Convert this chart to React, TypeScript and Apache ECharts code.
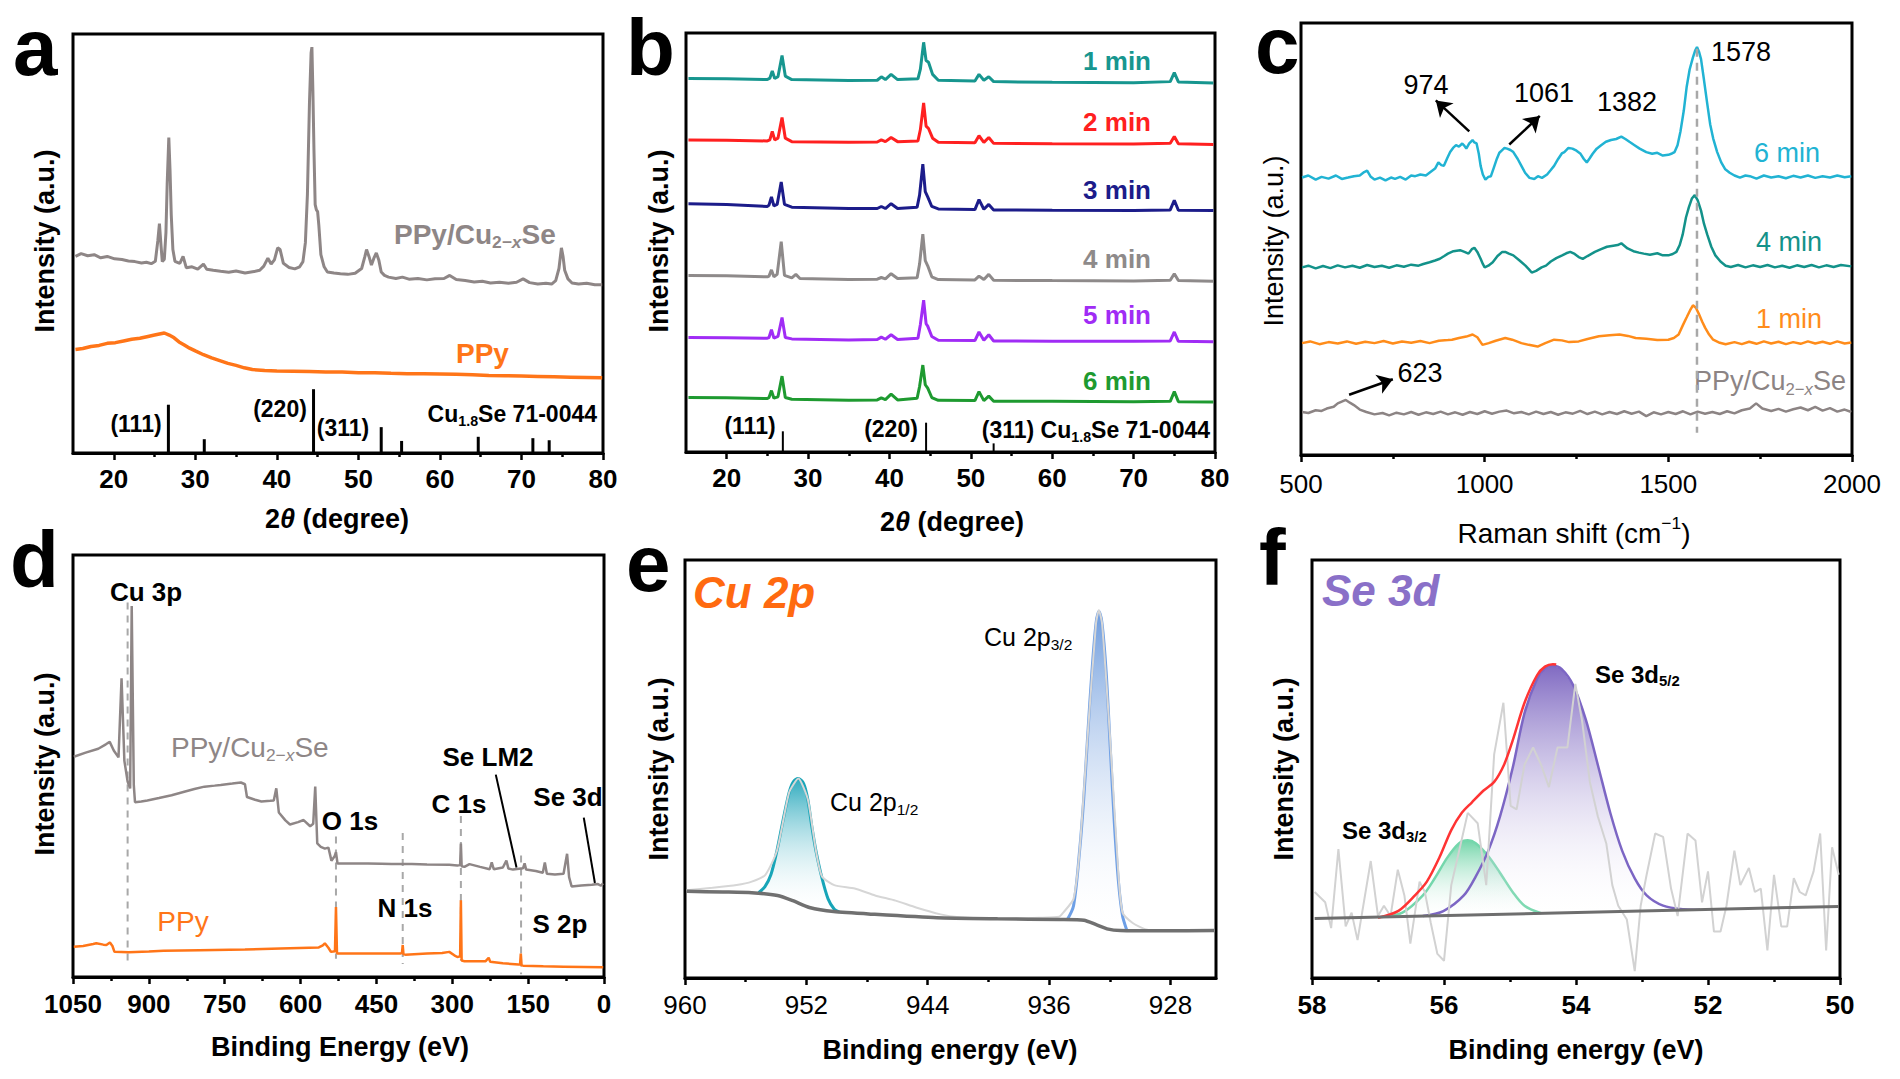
import React, { useEffect, useRef } from "react";
import * as echarts from "echarts";

const FONT = "'Liberation Sans', Arial, Helvetica, sans-serif";

// ---------------- Panel a : XRD ----------------
const A_TICKS = [20, 30, 40, 50, 60, 70, 80];
const A_MINOR = [25, 35, 45, 55, 65, 75];
const A_LABELS = [20, 30, 40, 50, 60, 70, 80];
const A_PPYCU = [
  [15.3, 570], [16.0, 578], [16.8, 572], [17.6, 575], [18.4, 566], [19.2, 570], [20.1, 563], [21.0, 561], [21.8, 557],
  [22.6, 555], [23.4, 551], [24.0, 553], [24.6, 549], [25.1, 556], [25.4, 615], [25.6, 665], [25.8, 600], [25.95, 555],
  [26.2, 562], [26.4, 640], [26.55, 780], [26.75, 915], [26.9, 820], [27.05, 690], [27.25, 590], [27.5, 556], [28.1, 550],
  [28.5, 570], [28.9, 537], [29.6, 540], [30.3, 533], [31.0, 548], [31.4, 533], [32.2, 530], [33.1, 527], [34.1, 524],
  [35.0, 528], [36.1, 522], [37.2, 526], [37.9, 530], [38.4, 542], [38.9, 565], [39.3, 548], [39.7, 560], [40.1, 595],
  [40.4, 590], [40.8, 550], [41.5, 538], [42.2, 534], [42.8, 540], [43.2, 555], [43.5, 610], [43.75, 750], [44.0, 1015],
  [44.2, 1160], [44.3, 1177], [44.42, 1050], [44.55, 880], [44.7, 720], [44.85, 705], [45.0, 700], [45.15, 660],
  [45.4, 575], [45.8, 540], [46.2, 525], [47.0, 522], [47.8, 520], [48.7, 518], [49.6, 521], [50.4, 535], [50.8, 570],
  [51.0, 590], [51.3, 570], [51.6, 545], [51.9, 565], [52.2, 580], [52.5, 560], [52.8, 525], [53.2, 515], [53.7, 510],
  [54.6, 506], [55.4, 510], [56.2, 504], [57.3, 506], [58.4, 502], [59.4, 505], [60.5, 506], [61.2, 515], [62.0, 503],
  [63.1, 500], [64.2, 496], [65.2, 498], [66.2, 493], [67.3, 495], [68.4, 492], [69.4, 495], [70.2, 505], [71.0, 494],
  [72.0, 490], [73.0, 492], [73.7, 490], [74.2, 500], [74.6, 535], [74.9, 595], [75.1, 570], [75.3, 530], [75.7, 505],
  [76.2, 493], [77.0, 490], [78.0, 492], [79.0, 488], [79.9, 488],
];
const A_PPY = [
  [15.3, 300], [16.2, 303], [17.2, 309], [18.2, 312], [19.2, 318], [20.2, 320], [21.2, 325], [22.2, 330], [23.2, 333],
  [24.2, 338], [25.0, 342], [25.6, 345], [26.2, 348], [26.8, 342], [27.4, 334], [28.0, 322], [28.6, 314], [29.3, 304],
  [30.0, 296], [31.0, 285], [32.0, 276], [33.0, 268], [34.0, 260], [35.0, 254], [36.0, 247], [37.0, 242], [38.5, 239],
  [40.0, 238], [42.0, 237], [44.0, 236], [46.0, 235], [48.0, 235], [50.0, 233], [52.0, 233], [54.0, 231], [56.0, 230],
  [58.0, 230], [60.0, 229], [62.0, 228], [64.0, 227], [66.0, 225], [68.0, 224], [70.0, 223], [72.0, 222], [74.0, 221],
  [76.0, 220], [78.0, 219], [79.9, 218],
];
const A_STICKS = [[26.7, 140], [31.1, 40], [44.5, 185], [52.8, 75], [55.3, 35], [64.7, 47], [71.4, 43], [73.4, 37]];

// ---------------- Panel b : XRD vs time ----------------
const B_1MIN = [[15.3,1083],[20,1082],[25,1080],[25.3,1084],[25.6,1105],[25.9,1083],[26.3,1088],[26.8,1150],[27.2,1090],[28,1080],[35,1077],[38.5,1078],[39,1088],[39.5,1080],[40.2,1095],[41,1080],[43.5,1082],[43.8,1110],[44.2,1188],[44.5,1135],[44.8,1130],[45.3,1095],[46,1078],[50.5,1076],[51,1095],[51.6,1078],[52.2,1088],[52.8,1074],[60,1072],[70,1071],[74.5,1074],[75,1100],[75.5,1073],[79.8,1070]];
const B_2MIN = [[15.3,905],[20,904],[25,902],[25.3,905],[25.6,930],[25.9,905],[26.3,910],[26.8,970],[27.2,910],[28,900],[35,898],[38.5,899],[39,905],[39.5,900],[40.2,912],[41,900],[43.5,902],[43.8,935],[44.2,1012],[44.5,945],[44.8,938],[45.3,910],[46,898],[50.5,897],[51,917],[51.6,898],[52.2,912],[52.8,895],[60,894],[70,893],[74.5,895],[75,915],[75.5,894],[79.8,892]];
const B_3MIN = [[15.3,720],[20,718],[25,712],[25.2,716],[25.5,740],[25.8,714],[26.2,718],[26.7,783],[27.1,718],[28,710],[35,706],[38.5,706],[39,712],[39.5,706],[40.2,720],[41,706],[43.4,710],[43.7,745],[44.1,835],[44.4,755],[44.7,740],[45.2,712],[46,705],[50.5,703],[51,732],[51.6,704],[52.2,718],[52.8,702],[60,701],[70,700],[74.5,702],[75,730],[75.5,701],[79.8,700]];
const B_4MIN = [[15.3,512],[20,511],[25,508],[25.2,510],[25.5,528],[25.8,508],[26.2,515],[26.7,610],[27.1,512],[28,505],[28.5,515],[29,503],[35,500],[38.5,501],[39,506],[39.5,502],[40.2,517],[41,503],[43.4,505],[43.7,545],[44.1,632],[44.4,555],[44.7,540],[45.2,508],[46,500],[50.5,499],[51,510],[51.6,500],[52.2,515],[52.8,498],[60,497],[70,496],[74.5,498],[75,517],[75.5,497],[79.8,495]];
const B_5MIN = [[15.3,332],[20,331],[25,330],[25.2,332],[25.5,355],[25.8,330],[26.3,335],[26.8,390],[27.2,332],[28,328],[35,325],[38.5,326],[39,333],[39.5,327],[40.2,340],[41,326],[43.5,330],[43.8,370],[44.2,440],[44.5,372],[44.7,365],[45.2,335],[46,324],[50.5,323],[51,348],[51.6,324],[52.2,340],[52.8,322],[60,321],[70,321],[74.5,322],[75,348],[75.5,321],[79.8,320]];
const B_6MIN = [[15.3,158],[20,157],[25,155],[25.2,158],[25.5,178],[25.8,156],[26.3,160],[26.8,220],[27.2,158],[28,153],[35,150],[38.5,151],[39,157],[39.5,152],[40.2,168],[41,151],[43.4,156],[43.7,190],[44.1,252],[44.4,195],[44.7,185],[45.2,158],[46,150],[50.5,149],[51,175],[51.6,149],[52.2,162],[52.8,147],[60,147],[70,146],[74.5,147],[75,175],[75.5,146],[79.8,145]];
const B_STICKS = [[26.9, 60], [44.5, 85], [52.8, 25]];
const B_NAMES = ["1 min", "2 min", "3 min", "4 min", "5 min", "6 min"];

// ---------------- Panel c : Raman ----------------
const C_TICKS = [500, 1000, 1500, 2000];
const C_MINOR = [750, 1250, 1750];
const C_LABELS = [500, 1000, 1500, 2000];
const C_6MIN = [[503,806],[520,812],[540,800],[556,808],[575,803],[595,812],[611,802],[628,806],[644,810],[660,812],[672,822],[680,826],[690,808],[700,800],[715,806],[730,798],[745,806],[756,802],[770,808],[785,800],[800,812],[811,810],[825,815],[840,812],[856,825],[865,832],[874,850],[882,842],[889,840],[898,862],[906,880],[914,892],[922,900],[930,896],[939,905],[945,898],[950,890],[958,905],[967,915],[972,908],[978,905],[984,875],[989,840],[995,815],[1002,800],[1010,808],[1017,810],[1025,835],[1033,860],[1040,878],[1047,885],[1054,892],[1061,890],[1070,886],[1078,880],[1090,860],[1100,840],[1110,820],[1122,805],[1135,802],[1145,810],[1156,805],[1170,815],[1180,828],[1189,840],[1200,860],[1210,876],[1217,880],[1228,892],[1239,890],[1250,884],[1261,875],[1270,860],[1278,850],[1286,862],[1294,875],[1305,890],[1317,900],[1330,910],[1344,915],[1358,918],[1372,925],[1383,918],[1394,910],[1408,900],[1422,890],[1440,880],[1456,875],[1470,878],[1485,870],[1500,872],[1510,876],[1517,880],[1525,900],[1533,940],[1542,1000],[1550,1070],[1558,1120],[1567,1155],[1573,1175],[1578,1185],[1584,1170],[1589,1150],[1597,1090],[1606,1020],[1614,960],[1622,920],[1633,880],[1644,850],[1655,830],[1667,820],[1680,812],[1695,806],[1710,812],[1722,810],[1740,803],[1760,812],[1780,806],[1800,810],[1820,804],[1840,811],[1860,806],[1880,812],[1900,805],[1920,810],[1940,806],[1960,812],[1980,807],[1998,810]];
const C_4MIN = [[503,545],[520,550],[540,542],[560,549],[580,543],[600,551],[620,545],[640,550],[660,544],[680,552],[700,546],[720,550],[740,544],[760,551],[780,547],[800,553],[820,550],[833,555],[850,560],[865,565],[878,570],[890,578],[900,585],[915,592],[933,595],[945,590],[956,585],[965,598],[972,602],[980,590],[989,570],[995,555],[1000,545],[1010,550],[1022,560],[1035,578],[1048,590],[1056,590],[1066,585],[1078,580],[1095,565],[1111,550],[1120,540],[1128,530],[1140,535],[1155,545],[1167,550],[1180,562],[1195,572],[1211,580],[1222,586],[1233,590],[1245,584],[1256,575],[1267,570],[1280,578],[1300,590],[1317,598],[1333,605],[1350,608],[1362,610],[1372,615],[1380,608],[1389,600],[1405,592],[1420,588],[1433,585],[1450,582],[1470,586],[1485,580],[1500,580],[1512,584],[1522,590],[1531,610],[1539,640],[1548,690],[1556,720],[1564,745],[1572,755],[1580,740],[1589,710],[1597,672],[1606,640],[1617,605],[1628,580],[1642,562],[1656,550],[1670,546],[1690,552],[1710,545],[1730,551],[1750,546],[1770,552],[1790,545],[1810,550],[1830,544],[1850,551],[1870,546],[1890,552],[1910,545],[1930,551],[1950,546],[1970,552],[1998,548]];
const C_1MIN = [[503,325],[525,330],[550,322],[575,328],[600,324],[625,330],[650,323],[675,329],[700,325],[725,331],[750,324],[775,330],[800,326],[825,331],[850,325],[875,332],[900,334],[911,335],[930,340],[950,344],[967,350],[980,342],[994,320],[1011,325],[1030,332],[1056,340],[1075,335],[1100,325],[1120,320],[1144,315],[1165,325],[1189,335],[1210,333],[1230,328],[1256,330],[1280,337],[1311,345],[1340,348],[1367,350],[1390,346],[1411,340],[1440,338],[1470,334],[1500,335],[1515,340],[1528,350],[1540,378],[1550,400],[1559,420],[1567,435],[1575,428],[1583,410],[1592,388],[1600,370],[1611,350],[1622,335],[1640,326],[1656,322],[1680,328],[1700,322],[1720,329],[1740,323],[1760,330],[1780,324],[1800,329],[1820,322],[1840,328],[1860,323],[1880,330],[1900,324],[1920,329],[1940,323],[1960,330],[1980,324],[1998,327]];
const C_PPYCU = [[503,125],[520,122],[540,130],[556,128],[570,135],[589,140],[600,150],[611,155],[622,160],[633,152],[644,145],[660,132],[678,125],[700,118],[722,122],[740,115],[760,123],[780,118],[800,125],[820,117],[840,124],[860,119],[880,126],[900,118],[920,124],[940,117],[960,125],[980,119],[1000,127],[1020,120],[1040,126],[1060,129],[1080,121],[1100,125],[1120,118],[1140,126],[1160,119],[1180,125],[1200,117],[1220,124],[1240,120],[1260,128],[1280,119],[1300,126],[1320,118],[1340,125],[1360,119],[1380,127],[1400,120],[1420,126],[1440,113],[1460,124],[1480,118],[1500,125],[1520,119],[1540,127],[1560,118],[1580,126],[1600,120],[1620,125],[1640,119],[1660,127],[1680,121],[1700,130],[1722,135],[1739,150],[1756,135],[1780,128],[1800,134],[1820,126],[1840,133],[1860,138],[1880,130],[1900,140],[1920,129],[1940,136],[1960,126],[1980,132],[1998,125]];
const C_DASH = [[1578, 1180], [1578, 65]];
const C_ARROWS = [[958, 940, 867, 1030], [1067, 902, 1150, 985], [631, 175, 750, 220]];
const C_PEAKS = ["974", "1061", "1382", "1578", "623"];

// ---------------- Panel d : XPS survey ----------------
const D_TICKS = [0, 150, 300, 450, 600, 750, 900, 1050];
const D_MINOR = [75, 225, 375, 525, 675, 825, 975];
const D_LABELS = [0, 150, 300, 450, 600, 750, 900, 1050];
const D_PPYCU = [[1048.4,640],[1025,652],[1000,663],[985,676],[977.4,683],[969.4,658],[960,638],[954,868],[948.4,628],[942,568],[937,548],[933.9,1078],[929.8,558],[927.4,508],[915,510],[903,513],[880,520],[855,528],[830,538],[810,546],[790,553],[770,556],[758,558],[735,562],[718,565],[710,560],[706,523],[690,515],[677.4,510],[660,512],[653,513],[648,548],[643,478],[630,455],[621,443],[605,450],[594,456],[581,438],[575,445],[571,553],[567,388],[560,378],[552,373],[545,376],[539,338],[533,350],[530,363],[527,330],[500,330],[467,330],[440,329],[420,328],[399,328],[380,328],[350,327],[306,326],[290,324],[284.5,325],[283,388],[281.5,322],[276,320],[266,328],[245,320],[226,313],[222,333],[218,313],[200,318],[193,338],[189,315],[180,312],[160,316],[157,330],[154,312],[135,308],[121,303],[117,333],[113,300],[97,298],[80,300],[73,358],[69,290],[64,263],[45,266],[24,268],[12,270],[6,265],[2,272]];
const D_PPY = [[1048.4,88],[1030,90],[1010,96],[1004,98],[990,94],[984,93],[977,100],[972,90],[968,73],[940,72],[900,74],[871,76],[800,78],[710,80],[640,83],[564,86],[556,92],[552,98],[545,85],[540,73],[532,75],[530,203],[528,70],[526,68],[480,68],[430,68],[403,68],[399.5,70],[398,93],[396.5,66],[393,65],[350,68],[320,70],[306,73],[296,63],[290,58],[284.5,60],[283,223],[281.5,48],[276,46],[250,46],[234,46],[228,56],[225,44],[200,40],[169,36],[166,37],[164.5,68],[163,34],[160,33],[120,31],[80,30],[40,29],[1.6,28]];
const D_DASH = [[942, 1088, 38], [530, 408, 53], [398, 418, 38], [283, 468, 48], [164, 353, 8]];
const D_LEADERS = [[214, 588, 173, 318], [40, 463, 18, 273]];

// ---------------- Panel e : Cu 2p ----------------
const E_TICKS = [928, 936, 944, 952, 960];
const E_MINOR = [932, 940, 948, 956];
const E_LABELS = [928, 936, 944, 952, 960];
const E_BG = [[959.9,252],[957.5,250],[955.6,248],[953.9,240],[952.9,225],[951.8,205],[950.2,193],[947.5,185],[943.4,175],[939.4,172],[935.3,170],[933.7,168],[932.9,155],[932.1,142],[931.3,138],[928.6,137],[925.1,138]];
const E_RAW = [[959.9,255],[958.2,262],[956.6,270],[955.6,280],[954.7,300],[953.94,370],[953.13,540],[952.53,580],[951.91,520],[951.37,370],[950.97,295],[950.16,270],[948.81,260],[947.47,240],[946.12,225],[944.77,205],[943.15,185],[942.08,177],[939.38,172],[936.68,175],[935.34,178],[935.07,190],[934.39,230],[933.99,370],[933.45,710],[932.91,1030],[932.72,1070],[932.51,1030],[931.97,690],[931.43,300],[931.16,190],[930.49,160],[929.68,142],[928.6,137],[925.1,138]];
const E_P12_X = [955.15,954.74,954.34,953.94,953.53,953.13,952.86,952.53,952.18,951.91,951.64,951.37,950.97,950.57,950.16,949.84];
const E_P12_BG = [248,247,245,240,235,230,225,220,213,208,204,201,197,195,193,192];
const E_P12_H = [0,18,55,130,225,310,345,360,352,312,236,169,93,35,7,0];
const E_P32_X = [934.80,934.39,933.99,933.72,933.45,933.18,932.91,932.72,932.51,932.24,931.97,931.70,931.43,931.16,930.89];
const E_P32_BG = [170,170,169,168,165,160,155,152,148,144,141,140,139,138,138];
const E_P32_H = [0,40,201,352,545,730,875,913,882,746,529,310,141,42,2];

// ---------------- Panel f : Se 3d ----------------
const F_TICKS = [50, 52, 54, 56, 58];
const F_MINOR = [51, 53, 55, 57];
const F_LABELS = [50, 52, 54, 56, 58];
const F_BG = [[57.96, 173], [50.02, 208]];
const F_RAW = [[57.96,250],[57.80,220],[57.71,145],[57.60,375],[57.49,150],[57.40,190],[57.31,110],[57.11,340],[57.00,180],[56.91,210],[56.81,180],[56.70,315],[56.60,240],[56.51,100],[56.37,280],[56.29,250],[56.20,160],[56.10,70],[56.00,50],[55.89,270],[55.77,370],[55.64,480],[55.49,450],[55.36,270],[55.24,650],[55.10,800],[54.99,500],[54.90,490],[54.78,620],[54.65,670],[54.53,620],[54.41,555],[54.28,670],[54.13,670],[54.01,855],[53.91,750],[53.79,570],[53.67,470],[53.54,390],[53.45,270],[53.36,210],[53.23,170],[53.11,20],[53.02,210],[52.93,300],[52.80,420],[52.68,410],[52.56,260],[52.46,180],[52.31,420],[52.19,400],[52.09,220],[52.00,310],[51.91,135],[51.81,135],[51.72,210],[51.60,370],[51.51,270],[51.38,320],[51.29,250],[51.20,260],[51.10,80],[51.00,300],[50.89,150],[50.80,150],[50.70,290],[50.61,250],[50.52,240],[50.40,310],[50.30,420],[50.21,80],[50.12,380],[50.02,300]];
const F_ENV = [[57.00,175],[56.69,195],[56.44,240],[56.26,280],[56.07,350],[55.89,430],[55.73,480],[55.58,510],[55.40,545],[55.24,570],[55.09,620],[54.96,690],[54.78,800],[54.59,880],[54.47,905],[54.35,912],[54.30,911]];
const F_G_X = [56.94,56.63,56.32,56.14,55.95,55.77,55.64,55.52,55.33,55.15,54.96,54.78,54.53];
const F_G_BG = [177.5,178.9,180.2,181.0,181.9,182.7,183.2,183.8,184.6,185.4,186.2,187.0,188.1];
const F_G_H = [0,11,60,109,168,209,217,208,170,120,64,23,0];
const F_P_X = [56.32,56.01,55.70,55.52,55.33,55.15,54.96,54.78,54.59,54.47,54.35,54.22,54.04,53.85,53.67,53.48,53.30,53.11,52.93,52.68,52.37,52.12];
const F_P_BG = [180.2,181.6,183.0,183.8,184.6,185.4,186.2,187.0,187.8,188.4,188.9,189.5,190.3,191.1,191.9,192.7,193.6,194.4,195.2,196.3,197.6,198.7];
const F_P_H = [0,13,57,111,185,285,424,583,682,712,719,709,660,559,428,287,176,95,45,14,2,0];

// ---------------- helpers ----------------
let mctx: any = null;
function measure(text: string, font: string) {
  if (!mctx) mctx = document.createElement("canvas").getContext("2d");
  mctx.font = font;
  return mctx.measureText(text).width;
}
type Part = { t: string; sub?: boolean; sup?: boolean; it?: boolean };
function label(parts: Part[] | string, x: number, y: number, o: any) {
  const ps: Part[] = typeof parts === "string" ? [{ t: parts }] : parts;
  const size = o.size;
  const items = ps.map((p) => {
    const fs = p.sub || p.sup ? size * 0.62 : size;
    const st = o.italic || p.it ? "italic" : "normal";
    const font = `${st} ${o.weight || "normal"} ${fs}px ${FONT}`;
    return { p, font, w: measure(p.t, font) };
  });
  const total = items.reduce((s, i) => s + i.w, 0);
  let cx = o.align === "right" ? -total : o.align === "left" ? 0 : -total / 2;
  const children = items.map((i) => {
    const dy = i.p.sub ? size * 0.3 : i.p.sup ? -size * 0.36 : 0;
    const el = {
      type: "text",
      x: cx,
      y: dy,
      style: {
        text: i.p.t,
        font: i.font,
        fill: o.color || "#000",
        textAlign: "left",
        textVerticalAlign: "middle",
        align: "left",
        verticalAlign: "middle",
      },
    };
    cx += i.w;
    return el;
  });
  return { type: "group", x, y, rotation: o.rotate || 0, silent: true, children };
}

const GRIDS = [
  { left: 73, top: 34, width: 530, height: 419 },
  { left: 686, top: 33, width: 529, height: 419 },
  { left: 1301, top: 23, width: 551, height: 432 },
  { left: 73, top: 555, width: 531, height: 422 },
  { left: 685, top: 560, width: 531, height: 418 },
  { left: 1312, top: 560, width: 528, height: 418 },
];
const YMAX = [1215, 1215, 1255, 1226, 1215, 1215];

function xAxisCfg(gi: number, min: number, max: number, ticks: number[], labels: number[], inverse: boolean, bold: boolean, margin: number) {
  return {
    type: "value",
    gridIndex: gi,
    position: "bottom",
    min,
    max,
    inverse,
    axisLine: { show: true, onZero: false, lineStyle: { color: "#000", width: 3 } },
    axisTick: { show: true, inside: false, length: 7, customValues: ticks, lineStyle: { color: "#000", width: 2.5 } },
    axisLabel: {
      show: true,
      customValues: labels,
      margin,
      color: "#000",
      fontSize: 26,
      fontWeight: bold ? "bold" : "normal",
      fontFamily: FONT,
      formatter: (v: number) => String(v),
    },
    splitLine: { show: false },
  };
}
function minorAxisCfg(gi: number, min: number, max: number, ticks: number[], inverse: boolean) {
  return {
    type: "value",
    gridIndex: gi,
    position: "bottom",
    min,
    max,
    inverse,
    axisLine: { show: false, onZero: false },
    axisTick: { show: true, inside: false, length: 4, customValues: ticks, lineStyle: { color: "#000", width: 2.5 } },
    axisLabel: { show: false },
    splitLine: { show: false },
  };
}

function ln(gi: number, data: any[], color: string, width: number, extra: any = {}) {
  return {
    type: "line",
    xAxisIndex: gi,
    yAxisIndex: gi,
    data,
    showSymbol: false,
    symbol: "none",
    silent: true,
    lineStyle: { color, width },
    itemStyle: { color },
    ...extra,
  };
}
function grad(top: string) {
  return new echarts.graphic.LinearGradient(0, 0, 0, 1, [
    { offset: 0, color: top },
    { offset: 1, color: "rgba(255,255,255,0.05)" },
  ]);
}
// fitted peak: filled between the background and the peak, outline on top
function peakSeries(gi: number, xs: number[], bg: number[], h: number[], color: string, fill: string, width: number) {
  return {
    type: "custom",
    coordinateSystem: "cartesian2d",
    xAxisIndex: gi,
    yAxisIndex: gi,
    silent: true,
    data: [[xs[0], bg[0]]],
    renderItem: (_params: any, api: any) => {
      const top = xs.map((x, i) => api.coord([x, bg[i] + h[i]]));
      const bot: any[] = [];
      for (let i = xs.length - 2; i >= 1; i--) bot.push(api.coord([xs[i], bg[i]]));
      return {
        type: "group",
        children: [
          { type: "polygon", shape: { points: top.concat(bot) }, style: { fill: grad(fill), stroke: "none", opacity: 0.88 } },
          { type: "polyline", shape: { points: top, smooth: 0.3 }, style: { stroke: color, lineWidth: width, fill: "none" } },
        ],
      };
    },
  };
}

const GRAY = "#8e8686";
const ORANGE = "#ff7518";
const B_COLORS = ["#17968f", "#ff2020", "#1c1c8a", "#8e8a8a", "#a02cf5", "#1e9a30"];
const C_COLORS = { m6: "#21b3d3", m4: "#13928a", m1: "#ff8c1a", g: "#8c8484" };

function buildOption() {
  const series: any[] = [];
  // a
  series.push(ln(0, A_PPYCU, GRAY, 3));
  series.push(ln(0, A_PPY, ORANGE, 3.5));
  series.push({ type: "bar", xAxisIndex: 0, yAxisIndex: 0, data: A_STICKS, barWidth: 3, itemStyle: { color: "#000" }, silent: true });
  // b
  [B_1MIN, B_2MIN, B_3MIN, B_4MIN, B_5MIN, B_6MIN].forEach((d, i) => series.push(ln(1, d, B_COLORS[i], 3)));
  series.push({ type: "bar", xAxisIndex: 1, yAxisIndex: 1, data: B_STICKS, barWidth: 2, itemStyle: { color: "#000" }, silent: true });
  // c
  series.push(ln(2, C_PPYCU, C_COLORS.g, 2.5));
  series.push(ln(2, C_1MIN, C_COLORS.m1, 2.5));
  series.push(ln(2, C_4MIN, C_COLORS.m4, 2.5));
  series.push(ln(2, C_6MIN, C_COLORS.m6, 2.5));
  series.push(
    ln(2, C_DASH, "#a8a8a8", 2.5, {
      lineStyle: { color: "#a8a8a8", width: 2.5, type: [8, 6] },
      markLine: {
        silent: true,
        symbol: ["none", "arrow"],
        symbolSize: 15,
        label: { show: false },
        lineStyle: { color: "#000", width: 2.5, type: "solid" },
        data: C_ARROWS.map((a) => [{ coord: [a[0], a[1]] }, { coord: [a[2], a[3]] }]),
      },
    })
  );
  // d
  D_DASH.forEach((d, i) =>
    series.push(
      ln(3, [[d[0], d[1]], [d[0], d[2]]], "#a8a8a8", 2, {
        lineStyle: { color: "#a8a8a8", width: 2, type: [7, 6] },
        z: 1,
        ...(i === 0
          ? {
              markLine: {
                silent: true,
                symbol: ["none", "none"],
                label: { show: false },
                lineStyle: { color: "#000", width: 2, type: "solid" },
                data: D_LEADERS.map((a) => [{ coord: [a[0], a[1]] }, { coord: [a[2], a[3]] }]),
              },
            }
          : {}),
      })
    )
  );
  series.push(ln(3, D_PPYCU, GRAY, 2.5, { z: 3 }));
  series.push(ln(3, D_PPY, ORANGE, 2.5, { z: 3 }));
  // e
  series.push(ln(4, E_RAW, "#d6d6d6", 2, { smooth: 0.2 }));
  series.push(peakSeries(4, E_P12_X, E_P12_BG, E_P12_H, "#17a5b8", "#129fb5", 3));
  series.push(peakSeries(4, E_P32_X, E_P32_BG, E_P32_H, "#6d9fe6", "#5a8ed8", 3));
  series.push(ln(4, E_BG, "#707070", 3.5, { smooth: 0.2, z: 3 }));
  // f
  series.push(ln(5, F_RAW, "#d2d2d2", 2));
  series.push(ln(5, F_ENV, "#ff3434", 2.5, { smooth: 0.3 }));
  series.push(peakSeries(5, F_G_X, F_G_BG, F_G_H, "#74d7ac", "#5fcf9d", 2.5));
  series.push(peakSeries(5, F_P_X, F_P_BG, F_P_H, "#7c66c4", "#6f56ba", 2.5));
  series.push(ln(5, F_BG, "#6e6e6e", 3, { z: 3 }));

  const xAxis = [
    xAxisCfg(0, 15, 80, A_TICKS, A_LABELS, false, true, 13),
    xAxisCfg(1, 15, 80, A_TICKS, A_LABELS, false, true, 13),
    xAxisCfg(2, 500, 2000, C_TICKS, C_LABELS, false, false, 16),
    xAxisCfg(3, 0, 1050, D_TICKS, D_LABELS, true, true, 14),
    xAxisCfg(4, 925, 960, E_TICKS, E_LABELS, true, false, 14),
    xAxisCfg(5, 50, 58, F_TICKS, F_LABELS, true, true, 14),
    minorAxisCfg(0, 15, 80, A_MINOR, false),
    minorAxisCfg(1, 15, 80, A_MINOR, false),
    minorAxisCfg(2, 500, 2000, C_MINOR, false),
    minorAxisCfg(3, 0, 1050, D_MINOR, true),
    minorAxisCfg(4, 925, 960, E_MINOR, true),
    minorAxisCfg(5, 50, 58, F_MINOR, true),
  ];
  const yAxis = YMAX.map((m, i) => ({ type: "value", gridIndex: i, min: 0, max: m, show: false }));
  const grid = GRIDS.map((g) => ({ ...g, show: true, borderColor: "#000", borderWidth: 3, backgroundColor: "transparent" }));

  const R = Math.PI / 2;
  const B = { weight: "bold" };
  const sub = (t: string): Part => ({ t, sub: true });
  const ppycu = (): Part[] => [{ t: "PPy/Cu" }, sub("2−"), { t: "x", sub: true, it: true }, { t: "Se" }];
  const graphic: any[] = [
    // panel letters
    label("a", 13, 47, { size: 80, weight: "bold", align: "left" }),
    label("b", 626, 47, { size: 80, weight: "bold", align: "left" }),
    label("c", 1255, 45, { size: 80, weight: "bold", align: "left" }),
    label("d", 10, 559, { size: 80, weight: "bold", align: "left" }),
    label("e", 626, 563, { size: 80, weight: "bold", align: "left" }),
    label("f", 1259, 557, { size: 80, weight: "bold", align: "left" }),
    // axis titles
    label([{ t: "2" }, { t: "θ", it: true }, { t: " (degree)" }], 337, 519, { size: 27, ...B }),
    label([{ t: "2" }, { t: "θ", it: true }, { t: " (degree)" }], 952, 522, { size: 27, ...B }),
    label([{ t: "Raman shift (cm" }, { t: "−1", sup: true }, { t: ")" }], 1574, 533, { size: 28 }),
    label("Binding Energy (eV)", 340, 1047, { size: 27, ...B }),
    label("Binding energy (eV)", 950, 1050, { size: 27, ...B }),
    label("Binding energy (eV)", 1576, 1050, { size: 27, ...B }),
    label("Intensity (a.u.)", 45, 241, { size: 27, ...B, rotate: R }),
    label("Intensity (a.u.)", 659, 241, { size: 27, ...B, rotate: R }),
    label("Intensity (a.u.)", 1274, 241, { size: 27, rotate: R }),
    label("Intensity (a.u.)", 45, 764, { size: 27, ...B, rotate: R }),
    label("Intensity (a.u.)", 659, 769, { size: 27, ...B, rotate: R }),
    label("Intensity (a.u.)", 1284, 769, { size: 27, ...B, rotate: R }),
    // a
    label("(111)", 136, 424, { size: 23, ...B }),
    label("(220)", 280, 409, { size: 23, ...B }),
    label("(311)", 343, 428, { size: 23, ...B }),
    label([{ t: "Cu" }, sub("1.8"), { t: "Se 71-0044" }], 597, 414, { size: 23, ...B, align: "right" }),
    label(ppycu(), 394, 234, { size: 28, ...B, align: "left", color: GRAY }),
    label("PPy", 456, 353, { size: 28, ...B, align: "left", color: ORANGE }),
    // b
    ...B_NAMES.map((n, i) => label(n, 1151, [61, 122, 190, 259, 315, 381][i], { size: 26, ...B, align: "right", color: B_COLORS[i] })),
    label("(111)", 750, 426, { size: 23, ...B }),
    label("(220)", 891, 429, { size: 23, ...B }),
    label([{ t: "(311) Cu" }, sub("1.8"), { t: "Se 71-0044" }], 1210, 430, { size: 23, ...B, align: "right" }),
    // c
    ...C_PEAKS.map((p, i) => label(p, [1426, 1544, 1627, 1741, 1420][i], [85, 93, 102, 52, 373][i], { size: 27 })),
    label("6 min", 1820, 153, { size: 27, align: "right", color: C_COLORS.m6 }),
    label("4 min", 1822, 242, { size: 27, align: "right", color: C_COLORS.m4 }),
    label("1 min", 1822, 319, { size: 27, align: "right", color: C_COLORS.m1 }),
    label(ppycu(), 1846, 381, { size: 27, align: "right", color: C_COLORS.g }),
    // d
    label("Cu 3p", 146, 592, { size: 26, ...B }),
    label(ppycu(), 171, 747, { size: 28, align: "left", color: GRAY }),
    label("Se LM2", 488, 757, { size: 26, ...B }),
    label("C 1s", 459, 804, { size: 26, ...B }),
    label("Se 3d", 568, 797, { size: 26, ...B }),
    label("O 1s", 350, 821, { size: 26, ...B }),
    label("N 1s", 405, 908, { size: 26, ...B }),
    label("S 2p", 560, 924, { size: 26, ...B }),
    label("PPy", 183, 921, { size: 28, color: ORANGE }),
    // e
    label("Cu 2p", 693, 592, { size: 44, weight: "bold", italic: true, align: "left", color: "#ff6a10" }),
    label([{ t: "Cu 2p" }, sub("3/2")], 984, 637, { size: 25, align: "left" }),
    label([{ t: "Cu 2p" }, sub("1/2")], 830, 802, { size: 25, align: "left" }),
    // f
    label("Se 3d", 1322, 590, { size: 44, weight: "bold", italic: true, align: "left", color: "#8a70c8" }),
    label([{ t: "Se 3d" }, sub("5/2")], 1595, 674, { size: 24, ...B, align: "left" }),
    label([{ t: "Se 3d" }, sub("3/2")], 1342, 830, { size: 24, ...B, align: "left" }),
  ];

  return {
    animation: false,
    backgroundColor: "#fff",
    grid,
    xAxis,
    yAxis,
    series,
    graphic,
  };
}

export default function App() {
  const ref = useRef<HTMLDivElement>(null);
  useEffect(() => {
    const chart = echarts.init(ref.current as HTMLDivElement, null, { renderer: "svg" });
    chart.setOption(buildOption() as any);
    return () => chart.dispose();
  }, []);
  return (
    <div
      ref={ref}
      style={{ position: "fixed", left: 0, top: 0, width: 1900, height: 1079, background: "#fff" }}
    />
  );
}
